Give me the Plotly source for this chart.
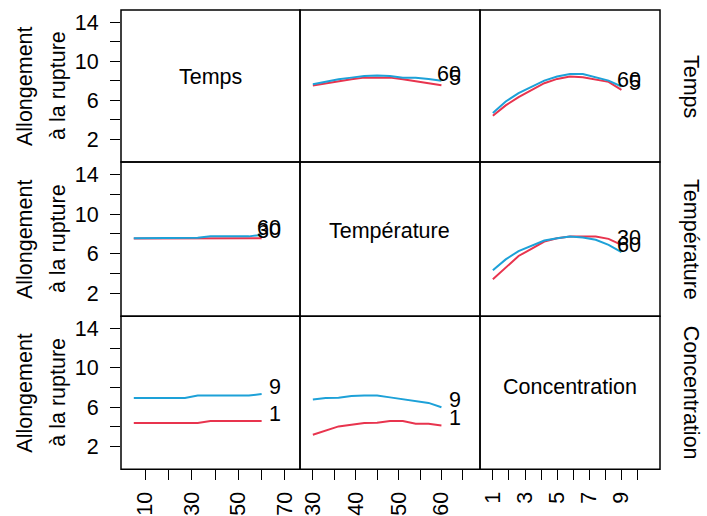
import plotly.graph_objects as go

# ---- data ----
factors = ["Temps", "Température", "Concentration"]
temps = [5, 10.5, 16, 21.5, 27, 32.5, 38, 43.5, 49, 54.5, 60]
temperature = [30, 33, 36, 39, 42, 45, 48, 51, 54, 57, 60]
concentration = [1, 1.8, 2.6, 3.4, 4.2, 5, 5.8, 6.6, 7.4, 8.2, 9]

trace_levels = {"Temps": ["5", "60"], "Température": ["30", "60"], "Concentration": ["1", "9"]}

# row 1: traces Temps (5, 60)
temps5_vs_temperature = [7.52, 7.76, 7.96, 8.17, 8.33, 8.33, 8.33, 8.17, 7.96, 7.80, 7.55]
temps60_vs_temperature = [7.66, 7.93, 8.17, 8.33, 8.50, 8.54, 8.50, 8.33, 8.33, 8.20, 8.00]
temps5_vs_conc = [4.44, 5.49, 6.34, 7.08, 7.76, 8.20, 8.44, 8.37, 8.17, 7.90, 7.08]
temps60_vs_conc = [4.71, 5.89, 6.75, 7.42, 8.03, 8.44, 8.71, 8.71, 8.37, 8.03, 7.42]
# row 2: traces Température (30, 60)
temp30_vs_temps = [7.53, 7.53, 7.53, 7.53, 7.53, 7.53, 7.56, 7.56, 7.56, 7.56, 7.56]
temp60_vs_temps = [7.56, 7.56, 7.56, 7.56, 7.56, 7.60, 7.75, 7.75, 7.75, 7.75, 7.90]
temp30_vs_conc = [3.43, 4.57, 5.77, 6.50, 7.23, 7.57, 7.73, 7.73, 7.73, 7.50, 6.90]
temp60_vs_conc = [4.33, 5.43, 6.27, 6.83, 7.33, 7.57, 7.73, 7.63, 7.40, 6.90, 6.17]
# row 3: traces Concentration (1, 9)
conc1_vs_temps = [4.39, 4.39, 4.39, 4.39, 4.39, 4.39, 4.59, 4.59, 4.59, 4.59, 4.59]
conc9_vs_temps = [6.94, 6.94, 6.94, 6.94, 6.94, 7.18, 7.18, 7.18, 7.18, 7.18, 7.35]
conc1_vs_temperature = [3.21, 3.65, 4.05, 4.22, 4.39, 4.42, 4.59, 4.59, 4.32, 4.32, 4.15]
conc9_vs_temperature = [6.78, 6.94, 6.97, 7.14, 7.18, 7.18, 7.00, 6.81, 6.64, 6.44, 6.00]

x_values = {"Temps": temps, "Température": temperature, "Concentration": concentration}
panels = {
    (0, 1): (temps5_vs_temperature, temps60_vs_temperature),
    (0, 2): (temps5_vs_conc, temps60_vs_conc),
    (1, 0): (temp30_vs_temps, temp60_vs_temps),
    (1, 2): (temp30_vs_conc, temp60_vs_conc),
    (2, 0): (conc1_vs_temps, conc9_vs_temps),
    (2, 1): (conc1_vs_temperature, conc9_vs_temperature),
}

x_ticks = {
    "Temps": ([10, 20, 30, 40, 50, 60, 70], ["10", "", "30", "", "50", "", "70"]),
    "Température": ([30, 35, 40, 45, 50, 55, 60, 65], ["30", "", "40", "", "50", "", "60", ""]),
    "Concentration": ([1, 2, 3, 4, 5, 6, 7, 8, 9, 10], ["1", "", "3", "", "5", "", "7", "", "9", ""]),
}
y_tickvals = [2, 4, 6, 8, 10, 12, 14]
y_ticktext = ["2", "", "6", "", "10", "", "14"]
y_title_lines = ["Allongement", "à la rupture"]

# ---- layout geometry ----
W, H = 707, 516
xpx = [121, 300, 480, 660]
ypx = [10, 163, 318, 472]
xd = [(xpx[i] / W, xpx[i + 1] / W) for i in range(3)]
yd = [(1 - ypx[i + 1] / H, 1 - ypx[i] / H) for i in range(3)]

RED = "#E8344E"
CYAN = "#1DA1D8"
FONT = "Liberation Sans, Arial, Helvetica, sans-serif"
FS = 21.5

fig = go.Figure()
layout = dict(
    width=W, height=H, margin=dict(l=0, r=0, t=0, b=0),
    plot_bgcolor="white", paper_bgcolor="white", showlegend=False,
    font=dict(family=FONT, size=FS, color="black"),
)
annotations = []
shapes = []

def xrange_for(vals):
    lo, hi = min(vals), max(vals)
    d = hi - lo
    return [lo - 0.1 * d, hi + 0.3 * d], d

diag_shift = [9, 8, 6]

for r in range(3):
    for c in range(3):
        n = r * 3 + c + 1
        xs = "" if n == 1 else str(n)
        fx = factors[c]
        xr, d = xrange_for(x_values[fx])
        xa = dict(domain=list(xd[c]), range=xr, anchor="y" + xs, showgrid=False, zeroline=False,
                  showline=False, fixedrange=True)
        if r == 2:
            tv, tt = x_ticks[fx]
            xa.update(tickmode="array", tickvals=tv, ticktext=tt, ticks="outside", ticklen=10,
                      tickwidth=1, tickcolor="black", tickangle=-90, ticklabelstandoff=3,
                      tickfont=dict(family=FONT, size=FS))
        else:
            xa.update(showticklabels=False, ticks="")
        ya = dict(domain=list(yd[r]), range=[-0.3, 15.25], anchor="x" + xs, showgrid=False,
                  zeroline=False, showline=False, fixedrange=True)
        if c == 0:
            ya.update(tickmode="array", tickvals=y_tickvals, ticktext=y_ticktext, ticks="outside",
                      ticklen=10, tickwidth=1, tickcolor="black", tickangle=0, ticklabelstandoff=7,
                      tickfont=dict(family=FONT, size=FS))
        else:
            ya.update(showticklabels=False, ticks="")
        layout["xaxis" + xs] = xa
        layout["yaxis" + xs] = ya

        shapes.append(dict(type="rect", xref="paper", yref="paper",
                           x0=xd[c][0], x1=xd[c][1], y0=yd[r][0], y1=yd[r][1],
                           line=dict(color="black", width=1.5), layer="above"))

        if r == c:
            fig.add_trace(go.Scatter(x=[None], y=[None], mode="lines", xaxis="x" + xs,
                                     yaxis="y" + xs, hoverinfo="skip"))
            cx = (xpx[c] + xpx[c + 1]) / 2 / W
            cy = 1 - ((ypx[r] + ypx[r + 1]) / 2 - diag_shift[r]) / H
            annotations.append(dict(text=fx, x=cx, y=cy, xref="paper", yref="paper",
                                    showarrow=False, xanchor="center", yanchor="middle",
                                    font=dict(family=FONT, size=FS)))
            continue
        lo_vals, hi_vals = panels[(r, c)]
        xv = x_values[fx]
        levels = trace_levels[factors[r]]
        for vals, col, lab in ((lo_vals, RED, levels[0]), (hi_vals, CYAN, levels[1])):
            fig.add_trace(go.Scatter(x=xv, y=vals, mode="lines", line=dict(color=col, width=2),
                                     xaxis="x" + xs, yaxis="y" + xs, hoverinfo="skip"))
            annotations.append(dict(text=lab, x=max(xv) + 0.165 * d, y=vals[-1],
                                    xref="x" + xs, yref="y" + xs, showarrow=False,
                                    xanchor="right", yanchor="bottom", yshift=-7,
                                    font=dict(family=FONT, size=FS)))

# row labels: y titles on left, factor names on right
for r in range(3):
    cy = 1 - (ypx[r] + ypx[r + 1]) / 2 / H
    annotations.append(dict(text=y_title_lines[0], x=25 / W, y=cy, xref="paper", yref="paper",
                            showarrow=False, textangle=-90, xanchor="center", yanchor="middle",
                            font=dict(family=FONT, size=FS)))
    annotations.append(dict(text=y_title_lines[1], x=58 / W, y=cy, xref="paper", yref="paper",
                            showarrow=False, textangle=-90, xanchor="center", yanchor="middle",
                            font=dict(family=FONT, size=FS)))
    annotations.append(dict(text=factors[r], x=691 / W, y=cy, xref="paper", yref="paper",
                            showarrow=False, textangle=90, xanchor="center", yanchor="middle",
                            font=dict(family=FONT, size=FS)))

layout["annotations"] = annotations
layout["shapes"] = shapes
fig.update_layout(**layout)
fig.write_html("out.html", config={"displayModeBar": False},
               post_script="document.body.style.margin='0px';document.body.style.overflow='hidden';")
